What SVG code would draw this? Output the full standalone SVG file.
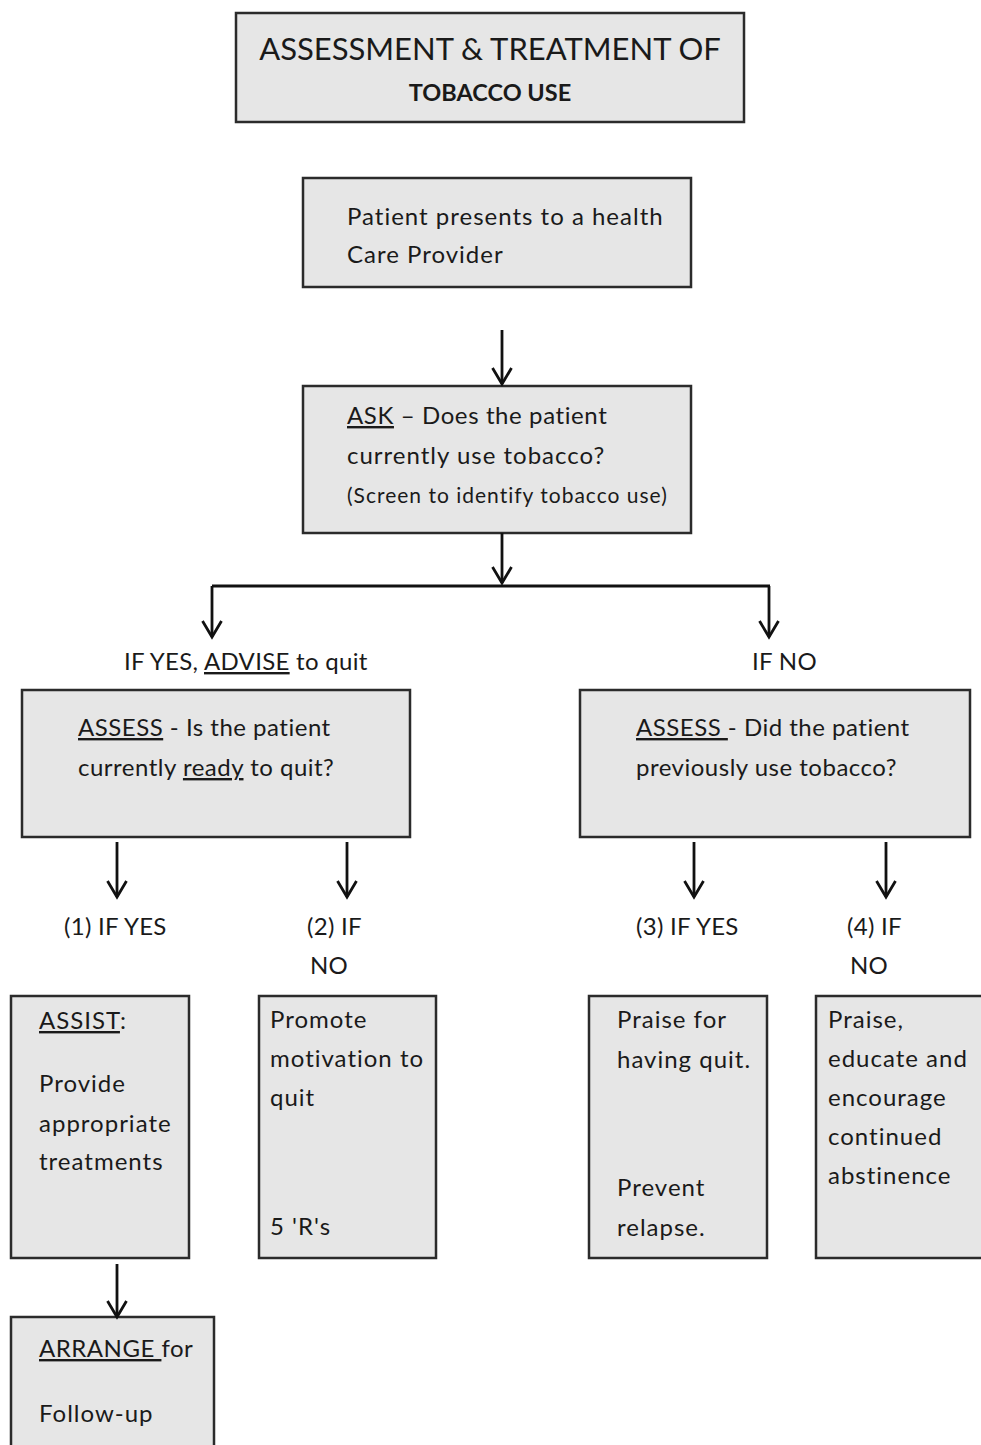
<svg xmlns="http://www.w3.org/2000/svg" width="981" height="1445" viewBox="0 0 981 1445">
<defs>
<marker id="ah" markerWidth="20" markerHeight="22" refX="17" refY="11" orient="auto" markerUnits="userSpaceOnUse" viewBox="0 0 20 22">
<path d="M1,1.5 L17,11 L1,20.5" fill="none" stroke="#111" stroke-width="2.8"/>
</marker>
<style>
.box{fill:#e6e6e6;stroke:#2b2b2b;stroke-width:2.5}
.t{font-family:Lato,"Open Sans","Liberation Sans",sans-serif;font-size:24px;fill:#1a1a1a;letter-spacing:1px}
.a{letter-spacing:0.5px}
.l{letter-spacing:0.3px}
.s{font-size:21px}
.c{stroke:#111;stroke-width:2.8;fill:none}
.u{text-decoration:underline}
</style>
</defs>
<rect width="981" height="1445" fill="#ffffff"/>
<g id="title">
<rect class="box" x="236" y="13" width="508" height="109"/>
<text class="t" x="490" y="60" text-anchor="middle" style="font-size:31px;letter-spacing:0">ASSESSMENT &amp; TREATMENT OF</text>
<text class="t" x="490" y="101" text-anchor="middle" style="font-size:23.5px;font-weight:bold;letter-spacing:0">TOBACCO USE</text>
</g>
<g id="present">
<rect class="box" x="303" y="178" width="388" height="109"/>
<text class="t" x="347" y="225">Patient presents to a health</text>
<text class="t" x="347" y="263">Care Provider</text>
</g>
<g id="ask">
<rect class="box" x="303" y="386" width="388" height="147"/>
<text class="t" x="347" y="424" style="letter-spacing:0.6px"><tspan class="u">ASK</tspan> – Does the patient</text>
<text class="t" x="347" y="464">currently use tobacco?</text>
<text class="t s" x="347" y="503">(Screen to identify tobacco use)</text>
</g>
<g id="lbl-yes">
<text class="t l" x="124" y="670">IF YES, <tspan class="u">ADVISE</tspan> to quit</text>
</g>
<g id="lbl-no">
<text class="t l" x="752" y="670">IF NO</text>
</g>
<g id="assess-ready">
<rect class="box" x="22" y="690" width="388" height="147"/>
<text class="t a" x="78" y="736"><tspan class="u">ASSESS</tspan> - Is the patient</text>
<text class="t a" x="78" y="776">currently <tspan class="u">ready</tspan> to quit?</text>
</g>
<g id="assess-prev">
<rect class="box" x="580" y="690" width="390" height="147"/>
<text class="t a" x="636" y="736"><tspan class="u">ASSESS </tspan>- Did the patient</text>
<text class="t a" x="636" y="776">previously use tobacco?</text>
</g>
<g id="lbl1"><text class="t l" x="64" y="935">(1) IF YES</text></g>
<g id="lbl2"><text class="t l" x="307" y="935">(2) IF</text><text class="t l" x="310" y="974">NO</text></g>
<g id="lbl3"><text class="t l" x="636" y="935">(3) IF YES</text></g>
<g id="lbl4"><text class="t l" x="847" y="935">(4) IF</text><text class="t l" x="850" y="974">NO</text></g>
<g id="assist">
<rect class="box" x="11" y="996" width="178" height="262"/>
<text class="t" x="39" y="1029"><tspan class="u">ASSIST</tspan>:</text>
<text class="t" x="39" y="1092">Provide</text>
<text class="t" x="39" y="1132">appropriate</text>
<text class="t" x="39" y="1170">treatments</text>
</g>
<g id="promote">
<rect class="box" x="259" y="996" width="177" height="262"/>
<text class="t" x="270" y="1028">Promote</text>
<text class="t" x="270" y="1067">motivation to</text>
<text class="t" x="270" y="1106">quit</text>
<text class="t" x="270" y="1235">5 'R's</text>
</g>
<g id="praise-quit">
<rect class="box" x="589" y="996" width="178" height="262"/>
<text class="t" x="617" y="1028">Praise for</text>
<text class="t" x="617" y="1068">having quit.</text>
<text class="t" x="617" y="1196">Prevent</text>
<text class="t" x="617" y="1236">relapse.</text>
</g>
<g id="praise-educate">
<rect class="box" x="816" y="996" width="170" height="262"/>
<text class="t" x="828" y="1028">Praise,</text>
<text class="t" x="828" y="1067">educate and</text>
<text class="t" x="828" y="1106">encourage</text>
<text class="t" x="828" y="1145">continued</text>
<text class="t" x="828" y="1184">abstinence</text>
</g>
<g id="arrange">
<rect class="box" x="11" y="1317" width="203" height="140"/>
<text class="t" x="39" y="1357" style="letter-spacing:0.5px"><tspan class="u">ARRANGE </tspan>for</text>
<text class="t" x="39" y="1422">Follow-up</text>
</g>
<g id="connectors">
<line class="c" x1="502" y1="330" x2="502" y2="384" marker-end="url(#ah)"/>
<line class="c" x1="502" y1="533" x2="502" y2="583" marker-end="url(#ah)"/>
<line class="c" x1="212" y1="586" x2="770" y2="586"/>
<line class="c" x1="212" y1="586" x2="212" y2="637" marker-end="url(#ah)"/>
<line class="c" x1="769" y1="586" x2="769" y2="637" marker-end="url(#ah)"/>
<line class="c" x1="117" y1="842" x2="117" y2="897" marker-end="url(#ah)"/>
<line class="c" x1="347" y1="842" x2="347" y2="897" marker-end="url(#ah)"/>
<line class="c" x1="694" y1="842" x2="694" y2="897" marker-end="url(#ah)"/>
<line class="c" x1="886" y1="842" x2="886" y2="897" marker-end="url(#ah)"/>
<line class="c" x1="117" y1="1264" x2="117" y2="1317" marker-end="url(#ah)"/>
</g>
</svg>
